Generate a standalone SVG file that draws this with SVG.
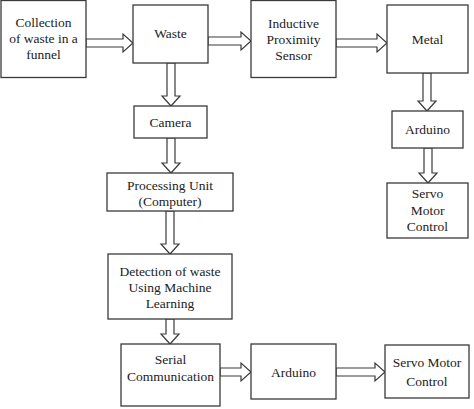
<svg xmlns="http://www.w3.org/2000/svg" width="474" height="409" viewBox="0 0 474 409" font-family="'Liberation Serif', 'Times New Roman', 'DejaVu Serif', serif">
<style>
.box{fill:#fff;stroke:#3a3a3a;stroke-width:1.3}
.arr{fill:#fff;stroke:#3a3a3a;stroke-width:1.2;stroke-linejoin:miter}
.t{font-family:'Liberation Serif','Times New Roman','DejaVu Serif',serif;font-size:13.5px;fill:#222;text-anchor:middle}
</style>
<rect width="474" height="409" fill="#fff"/>
<g id="connectors">
<polygon class="arr" points="86,39 123,39 123,34 133,43 123,52 123,47 86,47"/>
<polygon class="arr" points="208,37 241,37 241,32 251,41 241,50 241,45 208,45"/>
<polygon class="arr" points="336,39 377,39 377,34 387,43 377,52 377,47 336,47"/>
<polygon class="arr" points="220,368 241,368 241,363 251,372 241,381 241,376 220,376"/>
<polygon class="arr" points="336,368 375,368 375,363 385,372 375,381 375,376 336,376"/>
<polygon class="arr" points="167,63 167,96 162,96 171,106 180,96 175,96 175,63"/>
<polygon class="arr" points="167,138 167,163 162,163 171,173 180,163 175,163 175,138"/>
<polygon class="arr" points="166,211 166,244 161,244 170,254 179,244 174,244 174,211"/>
<polygon class="arr" points="166,319 166,334 161,334 170,344 179,334 174,334 174,319"/>
<polygon class="arr" points="423,73 423,101 418,101 427,111 436,101 431,101 431,73"/>
<polygon class="arr" points="424,148 424,173 419,173 428,183 437,173 432,173 432,148"/>
</g>
<g id="collection"><rect class="box" x="1" y="0.5" width="85" height="77"/>
<text class="t" x="43.5" y="27">Collection</text><text class="t" x="43.5" y="43">of waste in a</text><text class="t" x="43.5" y="59">funnel</text></g>
<g id="waste"><rect class="box" x="133" y="5" width="75" height="58"/><text class="t" x="170.5" y="38">Waste</text></g>
<g id="inductive"><rect class="box" x="251" y="0.5" width="85" height="77"/>
<text class="t" x="293.5" y="28">Inductive</text><text class="t" x="293.5" y="44">Proximity</text><text class="t" x="293.5" y="60">Sensor</text></g>
<g id="metal"><rect class="box" x="387" y="5" width="81" height="68"/><text class="t" x="427.5" y="44">Metal</text></g>
<g id="arduino1"><rect class="box" x="392" y="111" width="71" height="37"/><text class="t" x="427.5" y="134">Arduino</text></g>
<g id="servo1"><rect class="box" x="387" y="183" width="81" height="55"/>
<text class="t" x="427.5" y="198">Servo</text><text class="t" x="427.5" y="215">Motor</text><text class="t" x="427.5" y="231">Control</text></g>
<g id="camera"><rect class="box" x="134" y="106" width="73" height="32"/><text class="t" x="170.5" y="127">Camera</text></g>
<g id="processing"><rect class="box" x="107" y="173" width="126" height="38"/>
<text class="t" x="170" y="190">Processing  Unit</text><text class="t" x="170" y="206">(Computer)</text></g>
<g id="detection"><rect class="box" x="108" y="254" width="124" height="65"/>
<text class="t" x="170" y="276">Detection of waste</text><text class="t" x="170" y="292">Using Machine</text><text class="t" x="170" y="308">Learning</text></g>
<g id="serial"><rect class="box" x="121" y="344" width="99" height="62"/>
<text class="t" x="170.5" y="364">Serial</text><text class="t" x="170.5" y="381">Communication</text></g>
<g id="arduino2"><rect class="box" x="251" y="344" width="85" height="55"/><text class="t" x="293.5" y="377">Arduino</text></g>
<g id="servo2"><rect class="box" x="385" y="345" width="84" height="53"/>
<text class="t" x="427" y="367">Servo Motor</text><text class="t" x="427" y="386">Control</text></g>
</svg>
